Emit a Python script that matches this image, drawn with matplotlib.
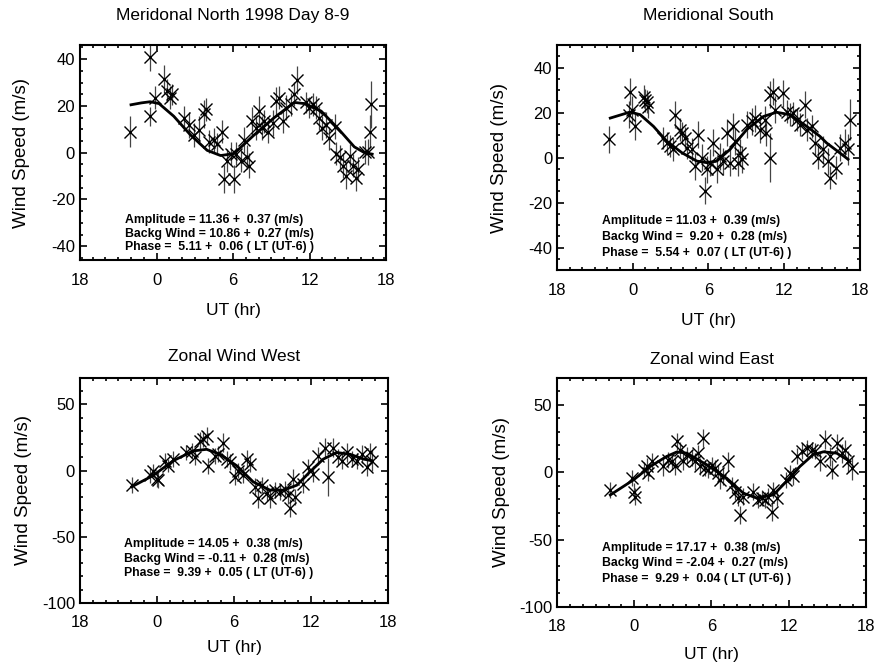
import matplotlib
matplotlib.use("Agg")
import matplotlib.pyplot as plt
from matplotlib.ticker import MultipleLocator

plt.rcParams['font.family'] = ['Liberation Sans', 'DejaVu Sans']
plt.rcParams['axes.unicode_minus'] = False

# ---- Meridional North (top left)
mn_x = [-2.06, -0.49, -0.49, -0.1, 0.56, 0.82, 1.09, 1.2, 2.14, 2.53,
        2.9, 3.3, 3.7, 3.84, 4.1, 4.5, 4.76, 5.15, 5.29, 5.55,
        5.8, 6.07, 6.2, 6.6, 6.86, 7.12, 7.25, 7.5, 7.78, 8.04,
        8.3, 8.43, 8.7, 9.09, 9.35, 9.6, 9.88, 10.14, 10.5, 10.8,
        11.0, 11.7, 11.98, 12.24, 12.5, 12.77, 13.0, 13.3, 13.55, 13.95,
        14.08, 14.34, 14.6, 14.87, 15.13, 15.4, 15.65, 15.8, 16.3, 16.57,
        16.7, 16.83]
mn_y = [9.0, 41.0, 15.6, 23.6, 31.7, 26.6, 23.6, 25.0, 14.9, 12.0,
        7.6, 9.8, 16.4, 18.5, 4.7, 5.4, 3.9, 9.0, -11.4, -3.4,
        -0.4, -11.4, -0.4, -3.4, 5.4, -1.9, -5.5, 13.4, 10.5, 17.8,
        10.5, 13.4, 9.0, 12.7, 22.2, 23.6, 13.4, 19.3, 20.7, 25.1,
        31.0, 21.5, 19.3, 20.7, 19.3, 14.9, 10.5, 12.0, 6.1, 11.2,
        -0.4, -1.9, -5.5, -9.9, -1.2, -5.5, -10.7, -7.0, 0.3, 0.3,
        9.0, 20.7]
mn_err = [6.5, 6.0, 4.0, 5.0, 6.0, 5.0, 5.0, 4.5, 5.0, 5.5,
          5.0, 6.0, 6.0, 5.0, 5.0, 5.0, 4.5, 5.0, 6.0, 5.0,
          5.0, 6.0, 5.0, 5.0, 5.5, 5.0, 5.5, 6.0, 5.0, 6.5,
          5.0, 5.0, 5.0, 5.5, 6.0, 5.0, 5.0, 5.5, 5.0, 5.0,
          6.0, 4.5, 4.5, 5.0, 5.0, 5.0, 5.0, 5.5, 5.0, 5.5,
          5.0, 5.0, 5.5, 5.5, 5.0, 5.0, 5.5, 5.0, 5.0, 5.5,
          7.0, 10.0]
mn_fit_x = [-2.0, -1.2, -0.5, 0.2, 1.35, 2.66, 3.97, 5.02, 6.07, 7.65,
            9.2, 10.8, 11.6, 12.9, 14.2, 15.5, 16.3, 16.9]
mn_fit_y = [20.5, 21.3, 21.8, 21.0, 15.6, 7.6, 1.0, -1.2, -0.4, 7.6,
            14.9, 21.5, 21.0, 17.8, 10.5, 2.5, 0.0, -0.6]

# ---- Meridional South (top right)
ms_x = [-1.91, -0.33, -0.2, -0.07, 0.2, 0.86, 1.0, 1.12, 1.25, 2.44,
        2.7, 2.97, 3.23, 3.36, 3.76, 3.9, 4.15, 4.29, 4.68, 4.95,
        5.21, 5.47, 5.74, 5.87, 6.13, 6.4, 6.66, 6.9, 7.19, 7.45,
        7.7, 7.98, 8.1, 8.38, 8.5, 8.64, 9.04, 9.43, 9.7, 10.09,
        10.49, 10.6, 10.88, 10.88, 11.15, 11.28, 11.94, 12.2, 12.47, 12.73,
        13.0, 13.26, 13.65, 13.8, 14.2, 14.45, 14.7, 15.1, 15.5, 15.62,
        16.15, 16.4, 16.8, 17.07, 17.2]
ms_y = [8.1, 19.1, 29.3, 21.3, 13.9, 27.1, 25.5, 24.9, 22.7, 8.8,
        6.6, 5.1, 3.7, 19.1, 12.5, 11.0, 8.8, 4.4, 3.7, -3.7,
        10.3, 0.0, -14.7, -5.1, -2.2, 6.6, -5.1, 0.7, -1.5, 11.0,
        -2.2, 13.9, 7.3, -2.2, 2.2, -0.7, 14.7, 16.1, 17.6, 12.5,
        16.9, 11.0, 0.0, 27.9, 29.3, 21.3, 28.6, 20.5, 19.1, 19.8,
        16.9, 14.7, 23.5, 12.5, 13.9, 6.6, 0.0, 3.7, -1.5, -8.8,
        -4.4, 4.4, 6.6, 3.7, 16.9]
ms_err = [6, 6, 6, 6, 6, 5, 5, 5, 5, 5,
          5, 5, 5, 6, 5, 5, 5, 5, 5, 6,
          6, 6, 6, 6, 6, 6, 6, 6, 6, 6,
          6, 6, 6, 6, 6, 6, 6, 6, 6, 6,
          6, 6, 11, 6, 6, 6, 6, 5, 5, 5,
          5, 5, 6, 5, 5, 6, 5, 6, 6, 5,
          5, 6, 6, 7, 9]
ms_fit_x = [-1.78, -0.2, 0.6, 1.65, 2.7, 3.9, 5.08, 5.87, 6.66, 7.72,
            9.04, 10.36, 11.4, 12.47, 13.8, 14.84, 15.36, 16.4, 17.07]
ms_fit_y = [17.6, 20.3, 19.1, 13.9, 7.3, 2.2, -1.5, -2.2, -1.5, 3.7,
            12.5, 18.3, 20.2, 19.1, 13.9, 9.5, 6.6, 2.2, -0.7]

# ---- Zonal Wind West (bottom left)
zw_x = [-1.97, -0.55, -0.29, -0.03, 0.1, 0.62, 0.88, 1.27, 2.3, 2.7,
        2.96, 3.35, 3.61, 3.87, 4.0, 4.52, 4.78, 5.17, 5.43, 5.69,
        6.08, 6.34, 6.73, 6.99, 7.25, 7.64, 7.9, 8.16, 8.55, 8.8,
        9.2, 9.58, 9.97, 10.23, 10.36, 10.62, 10.75, 11.4, 11.8, 12.18,
        12.57, 13.09, 13.35, 13.74, 14.13, 14.4, 14.78, 15.17, 15.56, 15.95,
        16.34, 16.6, 16.73]
zw_y = [-11.1, -3.7, 0.0, -6.2, -7.4, 7.4, 3.7, 8.6, 13.6, 14.8,
        9.9, 22.2, 23.5, 25.9, 3.7, 11.1, 12.3, 21.0, 8.6, 6.2,
        -4.9, 0.0, -3.7, 8.6, 4.9, -12.3, -21.0, -11.1, -17.3, -21.0,
        -14.8, -16.0, -13.6, -18.5, -28.4, -6.2, -19.8, -9.9, 2.5, -2.5,
        11.1, 17.3, -4.9, 17.3, 9.9, 7.4, 13.6, 8.6, 7.4, 12.3,
        2.5, 13.6, 7.4]
zw_err = [6, 6, 5, 6, 6, 6, 5, 6, 6, 6,
          6, 7, 6, 7, 6, 6, 6, 7, 6, 6,
          6, 6, 6, 7, 6, 7, 7, 6, 6, 7,
          6, 6, 6, 7, 7, 7, 6, 7, 6, 6,
          7, 7, 14, 7, 6, 6, 7, 6, 6, 7,
          7, 7, 8]
zw_fit_x = [-1.97, -0.29, 1.27, 2.83, 3.87, 4.9, 6.2, 7.5, 8.8, 9.84,
            10.9, 11.9, 12.96, 14.0, 15.04, 16.1, 16.73]
zw_fit_y = [-12.3, -3.7, 7.4, 14.8, 16.0, 12.3, 3.7, -8.6, -14.8, -14.8,
            -11.1, -1.2, 8.6, 13.6, 12.3, 8.6, 7.4]

# ---- Zonal wind East (bottom right)
ze_x = [-1.86, -0.18, -0.05, 0.08, 0.72, 0.98, 1.1, 1.37, 2.27, 2.66,
        2.92, 3.18, 3.31, 3.57, 3.82, 4.08, 4.47, 4.73, 4.99, 5.12,
        5.32, 5.5, 5.76, 6.02, 6.28, 6.54, 6.67, 6.93, 7.31, 7.57,
        7.83, 8.09, 8.22, 8.48, 9.25, 9.64, 9.9, 10.16, 10.41, 10.67,
        10.8, 11.06, 11.83, 12.1, 12.35, 12.62, 13.0, 13.4, 13.8, 14.05,
        14.43, 14.82, 15.21, 15.34, 15.73, 16.12, 16.38, 16.63, 16.89]
ze_y = [-13.2, -4.5, -14.4, -18.1, 1.7, 4.2, -0.7, 7.9, 4.2, 9.2,
        7.9, 4.2, 22.8, 16.6, 7.9, 12.9, 10.4, 7.9, 14.1, 4.2,
        25.3, 3.0, 1.7, 5.5, 3.0, -0.7, -5.7, -3.2, 7.9, -9.4,
        -14.4, -19.4, -31.8, -18.1, -14.4, -20.6, -19.4, -20.6, -18.1, -29.3,
        -13.2, -19.4, -5.7, -0.7, -3.2, 11.7, 15.4, 17.9, 16.6, 15.4,
        7.9, 24.1, 11.7, 1.7, 21.6, 14.1, 16.6, 7.9, 3.0]
ze_err = [6, 6, 6, 6, 6, 6, 6, 6, 7, 6,
          6, 6, 6, 6, 6, 6, 6, 6, 6, 6,
          7, 6, 6, 6, 6, 6, 7, 6, 7, 6,
          6, 6, 7, 6, 6, 6, 6, 6, 6, 7,
          6, 6, 6, 6, 6, 6, 6, 6, 6, 6,
          7, 7, 7, 7, 7, 7, 7, 8, 9]
ze_fit_x = [-1.86, -0.05, 1.24, 2.53, 3.31, 4.08, 5.63, 7.18, 8.48, 9.5,
            10.8, 11.83, 12.87, 13.9, 14.7, 15.73, 16.76]
ze_fit_y = [-16.9, -5.7, 4.2, 11.7, 15.0, 14.1, 5.5, -4.5, -15.6, -19.2,
            -16.9, -6.9, 4.2, 13.0, 15.1, 14.1, 7.9]

hour_ticks = [-6, 0, 6, 12, 18]
hour_labels = ['18', '0', '6', '12', '18']

panels = [
    dict(title='Meridonal North 1998 Day 8-9', x=mn_x, y=mn_y, err=mn_err,
         fx=mn_fit_x, fy=mn_fit_y, ylim=(-46, 46), yt=[-40, -20, 0, 20, 40], ymin=5,
         pos=[0.0914, 0.608, 0.350, 0.324], tpad=18, xpad=11, ylx=-0.163,
         tx=0.146, ty=[0.185, 0.123, 0.061],
         txt=['Amplitude = 11.36 +  0.37 (m/s)',
              'Backg Wind = 10.86 +  0.27 (m/s)',
              'Phase =  5.11 +  0.06 ( LT (UT-6) )']),
    dict(title='Meridional South', x=ms_x, y=ms_y, err=ms_err,
         fx=ms_fit_x, fy=ms_fit_y, ylim=(-50, 50), yt=[-40, -20, 0, 20, 40], ymin=5,
         pos=[0.6366, 0.593, 0.346, 0.339], tpad=18, xpad=11, ylx=-0.162,
         tx=0.15, ty=[0.22, 0.148, 0.075],
         txt=['Amplitude = 11.03 +  0.39 (m/s)',
              'Backg Wind =  9.20 +  0.28 (m/s)',
              'Phase =  5.54 +  0.07 ( LT (UT-6) )']),
    dict(title='Zonal Wind West', x=zw_x, y=zw_y, err=zw_err,
         fx=zw_fit_x, fy=zw_fit_y, ylim=(-100, 70), yt=[-100, -50, 0, 50], ymin=10,
         pos=[0.0914, 0.092, 0.352, 0.339], tpad=12, xpad=7, ylx=-0.156,
         tx=0.144, ty=[0.262, 0.196, 0.133],
         txt=['Amplitude = 14.05 +  0.38 (m/s)',
              'Backg Wind = -0.11 +  0.28 (m/s)',
              'Phase =  9.39 +  0.05 ( LT (UT-6) )']),
    dict(title='Zonal wind East', x=ze_x, y=ze_y, err=ze_err,
         fx=ze_fit_x, fy=ze_fit_y, ylim=(-100, 70), yt=[-100, -50, 0, 50], ymin=10,
         pos=[0.6366, 0.086, 0.353, 0.345], tpad=10, xpad=9, ylx=-0.152,
         tx=0.147, ty=[0.256, 0.19, 0.122],
         txt=['Amplitude = 17.17 +  0.38 (m/s)',
              'Backg Wind = -2.04 +  0.27 (m/s)',
              'Phase =  9.29 +  0.04 ( LT (UT-6) )']),
]

fig = plt.figure(figsize=(8.75, 6.64), dpi=100)

for p in panels:
    ax = fig.add_axes(p['pos'])
    ax.errorbar(p['x'], p['y'], yerr=p['err'], fmt='none', ecolor='#444444',
                elinewidth=0.9, capsize=0, zorder=2)
    ax.plot(p['x'], p['y'], 'x', color='black', markersize=8, mew=1.0, zorder=3)
    ax.plot(p['fx'], p['fy'], '-', color='black', lw=2.0, zorder=4)

    ax.set_xlim(-6, 18)
    ax.set_ylim(*p['ylim'])
    ax.set_xticks(hour_ticks)
    ax.set_xticklabels(hour_labels)
    ax.set_yticks(p['yt'])
    ax.xaxis.set_minor_locator(MultipleLocator(1))
    ax.yaxis.set_minor_locator(MultipleLocator(p['ymin']))
    ax.tick_params(which='both', direction='in', top=True, right=True,
                   labelsize=12, width=1.2)
    ax.tick_params(which='major', length=5)
    ax.tick_params(which='minor', length=2.5)
    ax.tick_params(axis='x', pad=9)
    for s in ax.spines.values():
        s.set_linewidth(1.5)

    ax.set_title(p['title'], fontsize=12.5, pad=p['tpad'])
    ax.set_xlabel('UT (hr)', fontsize=12.5, labelpad=p['xpad'])
    ax.set_ylabel('Wind Speed (m/s)', fontsize=13.5)
    ax.yaxis.set_label_coords(p['ylx'], 0.5)

    for yy, line in zip(p['ty'], p['txt']):
        ax.text(p['tx'], yy, line, transform=ax.transAxes,
                fontsize=8.8, fontweight='bold', va='center', ha='left')

fig.savefig('out.png', dpi=100)
